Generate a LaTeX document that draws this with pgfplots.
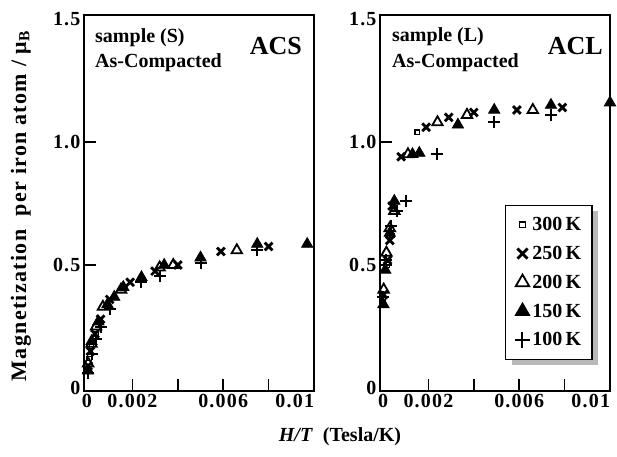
\documentclass[border=0pt]{standalone}
\usepackage{fontspec}
\setmainfont{Liberation Serif}
\newfontfamily\lsfont{Liberation Serif}[LetterSpace=6]
\usepackage{pgfplots}
\pgfplotsset{compat=1.18}
\usetikzlibrary{shadows}

\pgfplotsset{
  panel/.style={
    scale only axis, width=230pt, height=376pt,
    xmin=-0.000132, xmax=0.0100, ymin=-0.012, ymax=1.516,
    axis line style={line width=1.6pt},
    xtick={0.002,0.004,0.006,0.008},
    xticklabels={0.002,,0.006,},
    extra x ticks={0,0.01},
    extra x tick labels={0,\makebox[0pt][r]{0.01}},
    extra x tick style={major tick length=0pt},
    ytick={0.5,1.0},
    yticklabels={0.5,1.0},
    extra y ticks={0,1.5},
    extra y tick labels={0,1.5},
    extra y tick style={major tick length=0pt},
    tick align=inside, major tick length=12pt,
    tick pos=left,
    tick style={line width=1.6pt, black},
    tick label style={font=\fontsize{20}{22}\lsfont\bfseries},
    /pgf/number format/assume math mode=true,
    scaled x ticks=false,
    clip=false,
  },
  s300/.style={only marks, mark=square, mark size=2.2pt, line width=1.3pt, black, mark options={fill=white}},
  s250/.style={only marks, mark=x, mark size=5.5pt, line width=2.8pt, black},
  s200/.style={only marks, mark=triangle, mark size=6pt, line width=1.8pt, black, mark options={fill=white}},
  s150/.style={only marks, mark=triangle*, mark size=6.5pt, line width=0.8pt, black},
  s100/.style={only marks, mark=+, mark size=6pt, line width=2pt, black},
}

\begin{document}
\begin{tikzpicture}
\useasboundingbox (0,0) rectangle (617pt,456pt);

% ---------------- left panel (ACS) ----------------
\begin{axis}[panel, at={(84pt,65pt)}, anchor=south west]
\addplot[s300] coordinates {(0.00005,0.08) (0.0001,0.12) (0.0002,0.17) (0.0004,0.22)};
\addplot[s250] coordinates {(0.00005,0.09) (0.00015,0.15) (0.00035,0.22) (0.0006,0.28) (0.001,0.36) (0.0019,0.43) (0.003,0.475) (0.004,0.50) (0.0059,0.555) (0.008,0.575)};
\addplot[s200] coordinates {(0.00005,0.10) (0.0002,0.18) (0.0004,0.25) (0.0007,0.33) (0.0015,0.40) (0.0032,0.49) (0.0038,0.50) (0.0066,0.56)};
\addplot[s150] coordinates {(0.00005,0.07) (0.0002,0.19) (0.0005,0.27) (0.0009,0.34) (0.0012,0.37) (0.0016,0.41) (0.0024,0.45) (0.0034,0.50) (0.005,0.53) (0.0075,0.585) (0.0097,0.585)};
\addplot[s100] coordinates {(0.00005,0.06) (0.0002,0.14) (0.0004,0.20) (0.0006,0.25) (0.001,0.32) (0.0024,0.43) (0.0032,0.455) (0.005,0.51) (0.0075,0.56)};
\end{axis}

% ---------------- right panel (ACL) ----------------
\begin{axis}[panel, at={(380pt,65pt)}, anchor=south west,
  legend style={at={(0.926,0.082)}, anchor=south east, draw=black, line width=1.6pt,
    fill=white, drop shadow={shadow xshift=6pt, shadow yshift=-6pt, fill=gray!55, opacity=1},
    font=\fontsize{20}{22}\selectfont\bfseries, row sep=10pt, inner xsep=9pt, inner ysep=10pt},
  legend image post style={scale=1.3},
  legend cell align=left]
\addplot[s300] coordinates {(0.00002,0.36) (0.0002,0.50) (0.0004,0.62) (0.0015,1.04)};
\addlegendentry{300\,K}
\addplot[s250] coordinates {(0.00002,0.38) (0.0002,0.52) (0.0003,0.60) (0.0004,0.74) (0.0008,0.94) (0.0019,1.06) (0.0029,1.10) (0.004,1.12) (0.0059,1.13) (0.0079,1.14)};
\addlegendentry{250\,K}
\addplot[s200] coordinates {(0.00003,0.40) (0.00015,0.55) (0.0003,0.65) (0.0005,0.72) (0.0011,0.95) (0.0024,1.08) (0.0037,1.11) (0.0066,1.13)};
\addlegendentry{200\,K}
\addplot[s150] coordinates {(0.00002,0.34) (0.0001,0.48) (0.0003,0.63) (0.0005,0.76) (0.0013,0.95) (0.0016,0.955) (0.0033,1.07) (0.0049,1.13) (0.0074,1.15) (0.0100,1.16)};
\addlegendentry{150\,K}
\addplot[s100] coordinates {(0.00002,0.37) (0.00015,0.52) (0.00035,0.66) (0.0006,0.72) (0.001,0.76) (0.0024,0.95) (0.0049,1.08) (0.0074,1.11)};
\addlegendentry{100\,K}
\end{axis}

% ---------------- texts ----------------
\begin{scope}[every node/.style={font=\fontsize{20}{22}\selectfont\bfseries, inner sep=0pt}]
\node[anchor=base west] at (95pt,413pt) {sample (S)};
\node[anchor=base west] at (95pt,388pt) {As-Compacted};
\node[anchor=base west] at (392pt,414pt) {sample (L)};
\node[anchor=base west] at (392pt,388pt) {As-Compacted};
\node[anchor=base east, font=\fontsize{26}{28}\selectfont\bfseries] at (302pt,401pt) {ACS};
\node[anchor=base east, font=\fontsize{26}{28}\selectfont\bfseries] at (603pt,401pt) {ACL};
\node[rotate=90, anchor=center, font=\fontsize{22}{24}\lsfont\bfseries] at (21pt,250pt) {Magnetization\ \ per iron atom / μ\textsubscript{B}};
\node[anchor=center] at (340pt,19pt) {\textit{H/T}\ \ (Tesla/K)};
\end{scope}
\end{tikzpicture}
\end{document}
